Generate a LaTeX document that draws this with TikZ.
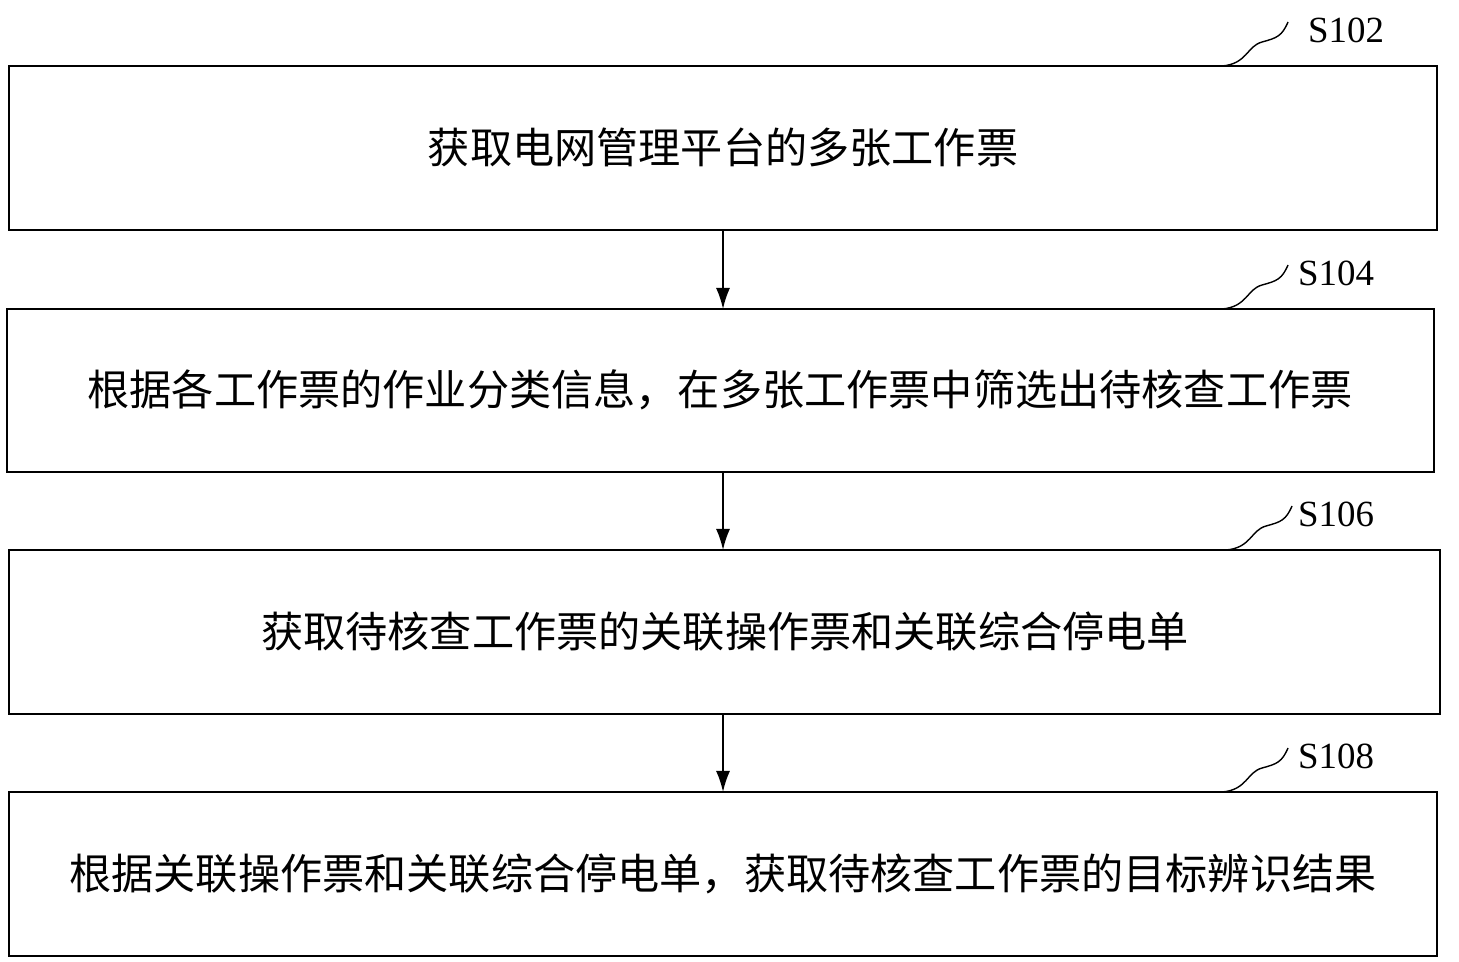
\documentclass[tikz,border=0pt]{standalone}
\usepackage{fontspec}
\newfontfamily\cjk{Noto Sans CJK SC}
\setmainfont{Liberation Serif}
\usetikzlibrary{arrows.meta}
\begin{document}
\begin{tikzpicture}[x=0.02cm,y=-0.02cm,
  boxst/.style={draw,line width=1.1pt,inner sep=0},
  txt/.style={font=\cjk\fontsize{24}{28}\selectfont},
  lab/.style={font=\fontsize{21}{24}\selectfont,anchor=west},
  arr/.style={-{Latex[length=12pt,width=8pt]},line width=1pt}]
\useasboundingbox (0,0) rectangle (1459,962);
\draw[boxst] (9,66) rectangle (1437,230); \node[txt] (t1) at (723,148) {获取电网管理平台的多张工作票};
\draw[boxst] (7,309) rectangle (1434,472); \node[txt] (t2) at (720,390) {根据各工作票的作业分类信息，在多张工作票中筛选出待核查工作票};
\draw[boxst] (9,550) rectangle (1440,714); \node[txt] (t3) at (725,632) {获取待核查工作票的关联操作票和关联综合停电单};
\draw[boxst] (9,792) rectangle (1437,956); \node[txt] (t4) at (723,874) {根据关联操作票和关联综合停电单，获取待核查工作票的目标辨识结果};
\coordinate (b1) at (723,230); \coordinate (c2) at (723,309);
\coordinate (b2) at (723,472); \coordinate (c3) at (723,550);
\coordinate (b3) at (723,714); \coordinate (c4) at (723,792);
\draw[arr] (b1) -- (c2); \draw[arr] (b2) -- (c3); \draw[arr] (b3) -- (c4);
\foreach \n/\x/\y/\s/\d in {a/1222/66/S102/80,b/1222/309/S104/70,c/1226/550/S106/66,d/1222/792/S108/70}{
  \coordinate (\n0) at (\x,\y);
  \node[lab] (\n) at (\x+\d,\y-36) {\s};
  \draw[line width=0.8pt] (\n0) .. controls (\x+25,\y-2) and (\x+25,\y-20) .. (\x+40,\y-24) .. controls (\x+55,\y-28) and (\x+60,\y-30) .. (\x+66,\y-44);
}
\end{tikzpicture}
\end{document}
